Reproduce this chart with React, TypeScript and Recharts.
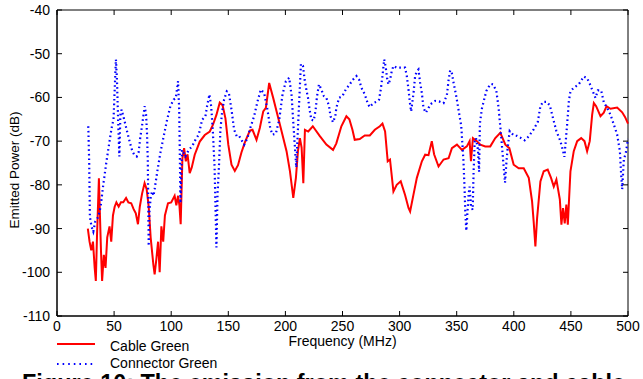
import { LineChart, Line, XAxis, YAxis, ReferenceArea } from "recharts";

// Cable Green (solid red)
const cableFreq = [
  27, 28.5, 30, 31.5, 33, 34, 35, 36.7, 37.5, 38.5, 39.5, 41, 42.5, 44, 46, 47.5, 49, 50.5, 52, 54,
  56, 58, 60.5, 62.5, 65, 67, 69, 70.9, 72.5, 74.5, 76.7, 78.5, 80.3, 82, 84.4, 85.5, 87, 88.5, 89.9, 91.4,
  93, 94.5, 97.2, 100, 103, 104.5, 106, 107.2, 108.3, 109.8, 111.3, 112.8, 114.3, 116.2, 118, 120.6, 125, 129.4, 133.8, 136.5,
  139.6, 142.5, 145, 147.5, 150, 152.8, 155.7, 158.5, 161.5, 164.5, 168.9, 171.2, 174.7, 177.6, 180.6, 182.9, 185.8, 189.3, 192.3, 196.6,
  201, 204, 206.9, 209.2, 211, 212.7, 214.2, 215.7, 217.1, 220, 224, 230, 235.9, 241.7, 244.6, 249, 253.4, 256, 258.7, 260.7,
  265.1, 269.5, 273.9, 278.3, 282.7, 285, 287.3, 289.6, 291.6, 294.6, 297.5, 301, 304.8, 307.8, 309.2, 312.1, 315.1, 319.5, 322.4, 325.3,
  328.2, 330.2, 334.1, 338.5, 342.9, 345.8, 350.2, 354.6, 358.9, 361.3, 362.5, 364.2, 367.7, 370.7, 375, 379.4, 383.8, 388.2, 392.6, 396.1,
  399.9, 404.3, 408.7, 413.1, 416, 417.4, 418.9, 420.4, 423.3, 426.2, 429.7, 432.6, 435, 437.3, 440.3, 441.7, 443.1, 444.6, 446, 447.3,
  449.6, 452.5, 455.5, 459, 461.9, 464.2, 466.5, 468.6, 470.1, 472.1, 475.9, 478.8, 481.2, 484.7, 490.5, 494.9, 497.5, 500,
];
const cableValues = [
  -90, -93, -95, -93, -99, -102, -92, -78.5, -86, -95, -102, -96, -99, -92, -89.5, -93, -87, -85, -84, -85,
  -84, -84, -83, -84, -84.2, -85.5, -86.5, -89, -85, -82, -79.6, -81, -85, -92, -98.3, -100.5, -97, -93, -100, -89.5,
  -93, -87, -84.2, -84, -82.5, -84.7, -82.5, -84.7, -89, -74, -71.6, -74.6, -73, -77.3, -76, -73.1, -70.1, -68.6, -67.8, -66.3,
  -64, -61.2, -61.8, -64.8, -70.8, -75.4, -76.8, -75.5, -72.6, -70.3, -67.6, -67.4, -69.7, -67, -63.2, -62.4, -56.7, -60.1, -63.2, -67.7,
  -72.3, -76.9, -83, -78.4, -72.3, -69.3, -71.5, -79.6, -67.4, -67.8, -66.6, -68.8, -70.8, -72, -70.5, -66.6, -64.3, -65, -67.4, -69.7,
  -69.5, -68.7, -68.7, -67.4, -66.6, -66, -67.8, -74.6, -74.2, -81.5, -80, -79.2, -82.3, -85.3, -86.1, -82.3, -78.4, -74.6, -73.1, -73.2,
  -70, -73, -75.8, -74.2, -73.9, -71.6, -70.8, -72, -71.2, -70, -74.6, -69.3, -70, -70.8, -71.2, -71.2, -69.3, -68.1, -70.8, -71.6,
  -75.4, -76.2, -76.2, -78.4, -83.8, -88.4, -94.1, -87.6, -79.2, -76.9, -76.5, -78.4, -80.4, -78.8, -83.3, -89.1, -85.3, -88.8, -84.5, -89.1,
  -76.9, -72.3, -70, -69.3, -70, -72.3, -70, -64, -61.3, -62, -64.3, -63.5, -62, -62.6, -62.3, -63.4, -64.5, -66,
];

// Connector Green (dotted blue)
const connectorFreq = [
  27.4, 28.2, 28.8, 30.2, 31.8, 33.5, 36.2, 38.2, 40.5, 43.5, 45.8, 47.8, 49.5, 50.7, 51.6, 52.5, 53.5, 54.6, 55.5, 56.5,
  58.1, 61, 63.9, 66, 67.4, 69.8, 71.5, 73, 74.4, 76.8, 78, 78.8, 79.5, 80.3, 81, 82, 83.2, 84.5, 85.5, 87.6,
  90.5, 93.4, 96.4, 99.3, 102.2, 104, 106, 107, 107.5, 108.1, 109.5, 112.4, 115.4, 118.3, 121.2, 124.1, 127.1, 130, 131.4, 133.5,
  135, 136.4, 138, 139.6, 140.6, 141.7, 143.1, 144.5, 146.3, 148.7, 150.5, 152.8, 155.1, 157.4, 159.5, 161.5, 163.9, 166.8, 169.7, 172.6,
  175.6, 178.5, 181.4, 184.3, 186.7, 188.7, 191.6, 194.6, 197.5, 200.4, 203.3, 205.5, 207.1, 208.5, 209.5, 210.5, 212.4, 213.6, 215.4, 216.8,
  218.3, 219.8, 221.2, 222.7, 224.8, 226.5, 227.7, 229.4, 231.5, 233.7, 235.9, 238.2, 239.5, 241.7, 243.7, 244.6, 247, 249.9, 252.8, 256.3,
  259.3, 262.2, 264.5, 266.6, 269.5, 272.4, 273.9, 276.8, 279.7, 282, 283.5, 285, 286.5, 287.8, 289, 290.2, 291.6, 293.1, 294.6, 297.5,
  301.9, 304.8, 306.3, 307.8, 309.2, 310.1, 312.2, 313.6, 315.1, 316.5, 318, 319.5, 320.9, 323, 325.3, 328.2, 331.2, 334.5, 338.5, 341.4,
  342.9, 344.3, 345.8, 347.3, 349.3, 351.6, 354, 355.1, 356, 356.9, 357.5, 358.4, 359.5, 360.5, 361.3, 362.5, 364, 364.8, 365.8, 366.9,
  368.6, 369.6, 370.3, 372.1, 374.2, 376, 378, 380, 381.8, 384.7, 386.7, 388.8, 390.5, 392.3, 393.5, 394.6, 396.4, 399.9, 402.8, 405.7,
  409.5, 413.1, 417.4, 421, 423.3, 425.6, 428.6, 431.5, 434.4, 437.3, 440.8, 443.2, 444.3, 445.5, 446.7, 448.2, 449.6, 452.5, 456.9, 461.3,
  464.2, 466.7, 469.2, 471.5, 473.6, 476.5, 478.9, 481.8, 484.7, 487.6, 490.5, 492.9, 494, 494.9, 496.4, 497.9, 500,
];
const connectorValues = [
  -66.6, -75, -87.3, -89.5, -90.7, -88.4, -87.3, -85, -80, -74.3, -70.4, -67, -65, -57, -51.3, -56, -65, -73.5, -64, -62.8,
  -64.3, -67.4, -70.4, -72.3, -73, -73.5, -72.5, -69, -66.6, -62, -64, -68.1, -74.3, -94, -86, -83, -81.5, -82.5, -81, -77.3,
  -72.7, -68.9, -65.1, -62, -60.5, -60.2, -56.3, -62.8, -72, -84.2, -72, -73.5, -72, -71.2, -69.7, -68.5, -65.1, -64.3, -62, -59.3,
  -62, -67.4, -76, -94.3, -82, -76.5, -67.4, -63.5, -60.5, -58.6, -59, -62.8, -67.4, -68.9, -68.8, -69.7, -70.8, -69.3, -66.6, -64.3,
  -60.9, -58.2, -59, -62.8, -67, -68.5, -68.3, -65.1, -59.3, -56.3, -55.5, -59.7, -66.6, -72, -76, -70, -59, -52.3, -52.8, -55.9,
  -58.2, -60.1, -62.8, -65.1, -65.3, -62.8, -59.7, -57, -58.2, -59.7, -60.1, -62, -64.3, -65.7, -64.3, -62.4, -60.1, -59.7, -58.2, -57,
  -55.9, -55.1, -55.9, -57.8, -59.3, -61.6, -62.2, -61.3, -61, -60.5, -58.2, -55.1, -51.3, -53, -55.5, -57, -56, -54, -52.8, -53.2,
  -53.2, -53.2, -55.1, -58.2, -61.6, -63.2, -59, -55.1, -54, -53.6, -56.7, -59, -62.4, -63.5, -62.4, -61.3, -60.8, -60.9, -61.3, -59.5,
  -56, -53.8, -54.5, -56.7, -59.3, -62.8, -66.6, -71.2, -75, -81.1, -86, -90.5, -86, -82, -80.4, -84.9, -85.7, -77, -70, -69.3,
  -72, -77, -66, -62.5, -60.3, -58.5, -57.6, -56.9, -57, -58.5, -62.4, -68.5, -73.9, -79.5, -75, -71.6, -67.7, -68.7, -68.8, -69.2,
  -69.8, -68.9, -67.3, -65.6, -62, -61, -61, -61.8, -64.8, -67.7, -70, -72.3, -73.6, -70, -66.2, -60.9, -58.6, -57.8, -57, -55.2,
  -55.6, -57, -58.6, -60.1, -58.4, -58.4, -61.2, -62.4, -64, -66.2, -68.5, -72.3, -77.6, -81, -74, -73, -69.5,
];

const xTicks = [0, 50, 100, 150, 200, 250, 300, 350, 400, 450, 500];
const yTicks = [-110, -100, -90, -80, -70, -60, -50, -40];

const cableData = cableFreq.map((f, i) => ({ f, v: cableValues[i] }));
const connectorData = connectorFreq.map((f, i) => ({ f, v: connectorValues[i] }));

const FONT = "Arial, 'Liberation Sans', sans-serif";
const TICK_LEN = 5;
const X_GAP = 5;
const Y_GAP = 7;

// tick label plus a short tick mark pointing into the plot (and the mirrored one on the far side)
function BottomTick(props: any) {
  const { x, y, payload } = props;
  const axisY = y - X_GAP;
  return (
    <g>
      <line x1={x} x2={x} y1={axisY} y2={axisY - TICK_LEN} stroke="#000" />
      <line x1={x} x2={x} y1={10} y2={10 + TICK_LEN} stroke="#000" />
      <text x={x} y={y} dy="0.71em" textAnchor="middle" fill="#000" fontSize={14} fontFamily={FONT}>
        {payload.value}
      </text>
    </g>
  );
}

function LeftTick(props: any) {
  const { x, y, payload } = props;
  const axisX = x + Y_GAP;
  return (
    <g>
      <line x1={axisX} x2={axisX + TICK_LEN} y1={y} y2={y} stroke="#000" />
      <line x1={628} x2={628 - TICK_LEN} y1={y} y2={y} stroke="#000" />
      <text x={x} y={y} dy="0.355em" textAnchor="end" fill="#000" fontSize={14} fontFamily={FONT}>
        {payload.value}
      </text>
    </g>
  );
}

export default function App() {
  return (
    <div
      style={{
        position: "absolute",
        left: 0,
        top: 0,
        width: 643,
        height: 379,
        background: "#fff",
        overflow: "hidden",
        fontFamily: FONT,
      }}
    >
      <LineChart
        width={643}
        height={379}
        margin={{ top: 10, right: 15, bottom: 0, left: 0 }}
      >
        <XAxis
          dataKey="f"
          type="number"
          domain={[0, 500]}
          ticks={xTicks}
          allowDuplicatedCategory={false}
          height={63}
          stroke="#000"
          tickLine={false}
          tickSize={0}
          tickMargin={X_GAP}
          tick={<BottomTick />}
          label={{
            value: "Frequency (MHz)",
            position: "insideTop",
            offset: 20,
            style: { fill: "#000", fontSize: 14, fontFamily: FONT },
          }}
        />
        <YAxis
          type="number"
          domain={[-110, -40]}
          ticks={yTicks}
          width={57}
          stroke="#000"
          tickLine={false}
          tickSize={0}
          tickMargin={Y_GAP}
          tick={<LeftTick />}
        />
        <ReferenceArea
          x1={0}
          x2={500}
          y1={-110}
          y2={-40}
          fill="none"
          stroke="#000"
          strokeWidth={1}
          ifOverflow="visible"
        />
        <Line
          data={cableData}
          dataKey="v"
          type="linear"
          stroke="#ff0000"
          strokeWidth={2}
          dot={false}
          isAnimationActive={false}
        />
        <Line
          data={connectorData}
          dataKey="v"
          type="linear"
          stroke="#0000ff"
          strokeWidth={2.2}
          strokeDasharray="1.6 3"
          dot={false}
          isAnimationActive={false}
        />
      </LineChart>
      <svg
        width={643}
        height={379}
        style={{ position: "absolute", left: 0, top: 0, pointerEvents: "none" }}
      >
        <text
          x={14}
          y={170}
          transform="rotate(-90 14 170)"
          textAnchor="middle"
          dominantBaseline="central"
          fontSize={13.5}
          fontFamily={FONT}
          fill="#000"
        >
          Emitted Power (dB)
        </text>
        <line x1={57} x2={95} y1={344} y2={344} stroke="#ff0000" strokeWidth={2} />
        <text x={110} y={346} dominantBaseline="central" fontSize={14} fontFamily={FONT} fill="#000">
          Cable Green
        </text>
        <line
          x1={57}
          x2={93}
          y1={364}
          y2={364}
          stroke="#0000ff"
          strokeWidth={2.2}
          strokeDasharray="1.6 4"
        />
        <text x={110} y={363} dominantBaseline="central" fontSize={14} fontFamily={FONT} fill="#000">
          Connector Green
        </text>
        <text
          x={22}
          y={391}
          fontSize={24}
          fontWeight="bold"
          fontFamily={FONT}
          fill="#000"
          textLength={603}
          lengthAdjust="spacingAndGlyphs"
        >
          Figure 10: The emission from the connector and cable
        </text>
      </svg>
    </div>
  );
}
